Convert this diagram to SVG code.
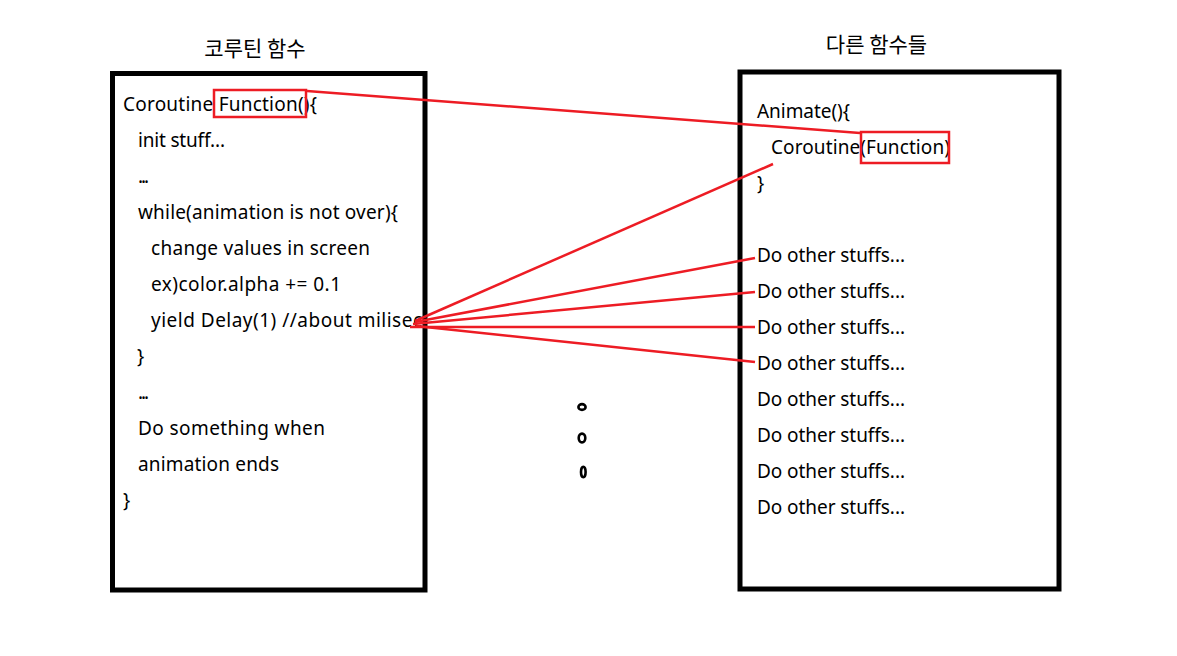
<svg xmlns="http://www.w3.org/2000/svg" width="1177" height="656" viewBox="0 0 1177 656">
<style>
.t{font-family:"Noto Sans","Noto Sans CJK KR",sans-serif;font-size:19px;fill:#000}
.h{font-family:"Noto Sans CJK KR",sans-serif;font-size:21px;fill:#000}
.box{fill:none;stroke:#000;stroke-width:5}
.hl{fill:none;stroke:#ed1c24;stroke-width:2.5}
.c line{stroke:#ed1c24;stroke-width:2.5}
.dot{fill:none;stroke:#000;stroke-width:2.6}
</style>
<rect width="1177" height="656" fill="#fff"/>
<g id="coroutine-node">
<text class="h" x="255" y="56" text-anchor="middle">코루틴 함수</text>
<rect class="box" x="112.5" y="73.5" width="312.5" height="516.5"/>
<text class="t" x="123" y="111" textLength="194" lengthAdjust="spacing">Coroutine Function(){</text>
<text class="t" x="138" y="147" textLength="87" lengthAdjust="spacing">init stuff...</text>
<text class="t" x="138" y="183" textLength="11" lengthAdjust="spacing">...</text>
<text class="t" x="138" y="219" textLength="260" lengthAdjust="spacing">while(animation is not over){</text>
<text class="t" x="151" y="255" textLength="219" lengthAdjust="spacing">change values in screen</text>
<text class="t" x="151" y="291" textLength="190" lengthAdjust="spacing">ex)color.alpha += 0.1</text>
<text class="t" x="151" y="327" textLength="271" lengthAdjust="spacing">yield Delay(1) //about milisec</text>
<text class="t" x="137" y="363">}</text>
<text class="t" x="138" y="399" textLength="11" lengthAdjust="spacing">...</text>
<text class="t" x="138" y="435" textLength="187" lengthAdjust="spacing">Do something when</text>
<text class="t" x="138" y="471" textLength="141" lengthAdjust="spacing">animation ends</text>
<text class="t" x="123" y="507">}</text>
<rect class="hl" x="214" y="90" width="92" height="27"/>
</g>
<g id="other-node">
<text class="h" x="876.5" y="52" text-anchor="middle">다른 함수들</text>
<rect class="box" x="740" y="72" width="319" height="517"/>
<text class="t" x="757" y="118" textLength="93" lengthAdjust="spacing">Animate(){</text>
<text class="t" x="771" y="154" textLength="179" lengthAdjust="spacing">Coroutine(Function)</text>
<text class="t" x="757" y="190">}</text>
<text class="t" x="757" y="262" textLength="148" lengthAdjust="spacing">Do other stuffs...</text>
<text class="t" x="757" y="298" textLength="148" lengthAdjust="spacing">Do other stuffs...</text>
<text class="t" x="757" y="334" textLength="148" lengthAdjust="spacing">Do other stuffs...</text>
<text class="t" x="757" y="370" textLength="148" lengthAdjust="spacing">Do other stuffs...</text>
<text class="t" x="757" y="406" textLength="148" lengthAdjust="spacing">Do other stuffs...</text>
<text class="t" x="757" y="442" textLength="148" lengthAdjust="spacing">Do other stuffs...</text>
<text class="t" x="757" y="478" textLength="148" lengthAdjust="spacing">Do other stuffs...</text>
<text class="t" x="757" y="514" textLength="148" lengthAdjust="spacing">Do other stuffs...</text>
<rect class="hl" x="861" y="132" width="88" height="31"/>
</g>
<g id="ellipsis">
<ellipse class="dot" cx="582" cy="407" rx="3.6" ry="2.9"/>
<ellipse class="dot" cx="582" cy="438" rx="3.3" ry="4.4"/>
<ellipse class="dot" cx="583.3" cy="472" rx="2.3" ry="5.2"/>
</g>
<g id="connectors" class="c">
<line x1="307" y1="91" x2="860" y2="133"/>
<line x1="773" y1="164" x2="415" y2="321"/>
<line x1="415" y1="322" x2="755" y2="258"/>
<line x1="413" y1="324" x2="755" y2="292"/>
<line x1="410" y1="327" x2="755" y2="327"/>
<line x1="416" y1="326" x2="755" y2="362"/>
</g>
</svg>
